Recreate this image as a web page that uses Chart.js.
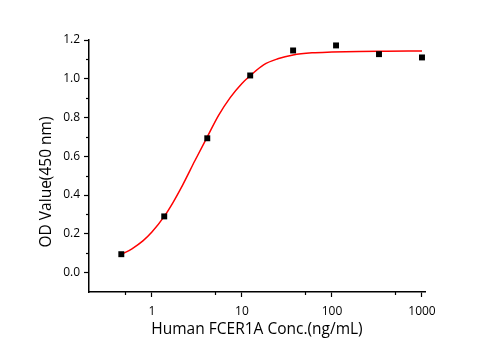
<!DOCTYPE html>
<html>
<head>
<meta charset="utf-8">
<script src="https://cdn.jsdelivr.net/npm/chart.js@4/dist/chart.umd.min.js"></script>
<style>
  html, body { margin: 0; padding: 0; background: #fff; }
  #wrap { width: 495px; height: 350px; position: relative; }
</style>
</head>
<body>
<div id="wrap"><canvas id="grafico"></canvas></div>
<script>
// Pontos medidos (concentração em ng/mL x OD a 450 nm)
const concentrations = [0.457, 1.37, 4.12, 12.35, 37.0, 111, 333, 1000];
const odValues = [0.095, 0.290, 0.693, 1.017, 1.146, 1.172, 1.127, 1.110];

// Curva ajustada
const curveConc = [0.457, 0.6, 0.8, 1.0, 1.37, 1.7, 2.2, 3.0, 4.12, 5.5, 7.4, 10, 12.35, 17.4, 25, 37, 60, 100, 200, 400, 1000];
const curveOD = [0.094, 0.123, 0.165, 0.209, 0.290, 0.359, 0.453, 0.577, 0.700, 0.811, 0.903, 0.976, 1.016, 1.072, 1.103, 1.123, 1.134, 1.138, 1.141, 1.142, 1.143];

// Ticks dos eixos
const xMajorTicks = [1, 10, 100, 1000];
const xMinorTicks = [0.5, 5, 50, 500];
const yMajorTicks = [0.0, 0.2, 0.4, 0.6, 0.8, 1.0, 1.2];
const yMinorTicks = [0.1, 0.3, 0.5, 0.7, 0.9, 1.1];

const fonte = '"Open Sans", "DejaVu Sans", sans-serif';

// Ticks menores e título do eixo Y
const eixosPlugin = {
    id: 'eixosExtras',
    afterDraw(chart) {
        const ctx = chart.ctx;
        const x = chart.scales.x;
        const y = chart.scales.y;
        ctx.save();
        ctx.strokeStyle = '#000';
        ctx.lineWidth = 1.2;
        xMinorTicks.forEach(v => {
            const px = Math.round(x.getPixelForValue(v)) + 0.5;
            ctx.beginPath();
            ctx.moveTo(px, chart.chartArea.bottom);
            ctx.lineTo(px, chart.chartArea.bottom + 3);
            ctx.stroke();
        });
        yMinorTicks.forEach(v => {
            const py = Math.round(y.getPixelForValue(v)) + 0.5;
            ctx.beginPath();
            ctx.moveTo(chart.chartArea.left, py);
            ctx.lineTo(chart.chartArea.left - 3, py);
            ctx.stroke();
        });
        ctx.translate(47, 182);
        ctx.rotate(-Math.PI / 2);
        ctx.fillStyle = '#000';
        ctx.font = '15.5px ' + fonte;
        ctx.textAlign = 'center';
        ctx.textBaseline = 'middle';
        ctx.fillText('OD Value(450 nm)', 0, 0);
        ctx.restore();
    }
};

window.addEventListener('DOMContentLoaded', function() {
    const ctx = document.getElementById('grafico').getContext('2d');
    new Chart(ctx, {
        type: 'scatter',
        data: {
            datasets: [
                {
                    label: 'Curva',
                    data: curveConc.map((c, i) => ({ x: c, y: curveOD[i] })),
                    showLine: true,
                    borderColor: '#ff0000',
                    borderWidth: 1.5,
                    pointRadius: 0,
                    cubicInterpolationMode: 'monotone',
                    order: 2
                },
                {
                    label: 'OD',
                    data: concentrations.map((c, i) => ({ x: c, y: odValues[i] })),
                    pointStyle: 'rect',
                    pointRadius: 4.2,
                    backgroundColor: '#000',
                    borderColor: '#000',
                    borderWidth: 0,
                    order: 1
                }
            ]
        },
        options: {
            responsive: true,
            maintainAspectRatio: false,
            animation: false,
            layout: { padding: { top: 40, right: 70, left: 0, bottom: 0 } },
            plugins: {
                legend: { display: false },
                tooltip: { enabled: false }
            },
            scales: {
                x: {
                    type: 'logarithmic',
                    min: 0.2,
                    max: 1080,
                    afterBuildTicks: scale => {
                        scale.ticks = xMajorTicks.map(v => ({ value: v }));
                    },
                    afterFit: scale => { scale.height = 58; },
                    border: { color: '#000', width: 1.5 },
                    grid: {
                        drawOnChartArea: false,
                        tickLength: 5,
                        tickColor: '#000',
                        tickWidth: 1.2
                    },
                    ticks: {
                        color: '#000',
                        padding: 7,
                        maxRotation: 0,
                        font: { family: fonte, size: 12 },
                        callback: v => String(v)
                    },
                    title: {
                        display: true,
                        text: 'Human FCER1A Conc.(ng/mL)',
                        color: '#000',
                        font: { family: fonte, size: 15.5 },
                        padding: { top: 0, bottom: 11 }
                    }
                },
                y: {
                    min: -0.1,
                    max: 1.2,
                    afterBuildTicks: scale => {
                        scale.ticks = yMajorTicks.map(v => ({ value: v }));
                    },
                    afterFit: scale => { scale.width = 89; },
                    border: { color: '#000', width: 1.5 },
                    grid: {
                        drawOnChartArea: false,
                        tickLength: 5,
                        tickColor: '#000',
                        tickWidth: 1.2
                    },
                    ticks: {
                        color: '#000',
                        padding: 4,
                        font: { family: fonte, size: 12 },
                        callback: v => Number(v).toFixed(1)
                    }
                }
            }
        },
        plugins: [eixosPlugin]
    });
});
</script>
</body>
</html>
